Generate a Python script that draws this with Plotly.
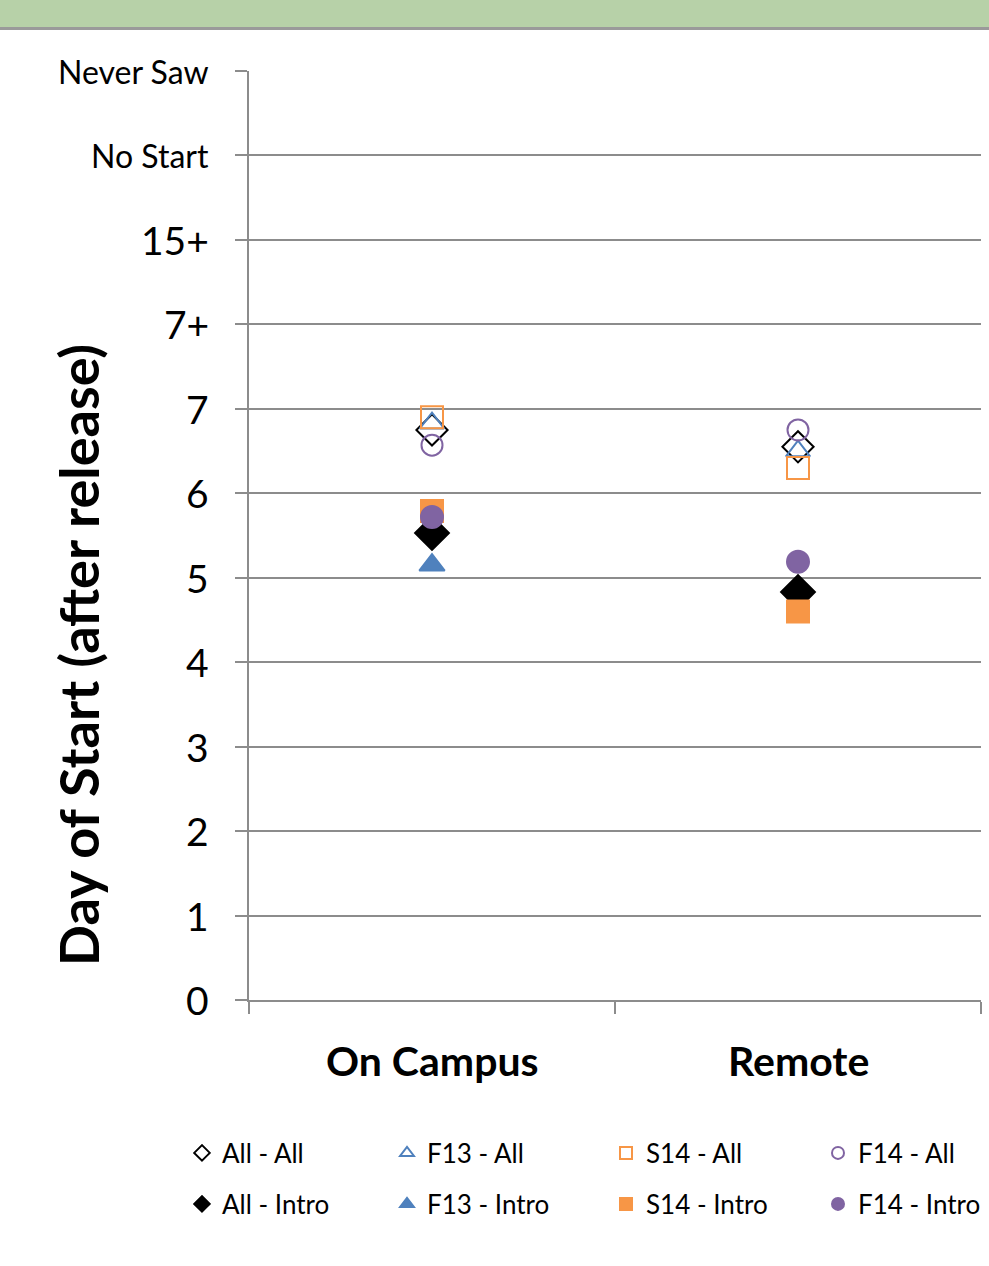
import plotly.graph_objects as go

categories = ["On Campus", "Remote"]
tick_vals = [0, 1, 2, 3, 4, 5, 6, 7, 8, 9, 10, 11]
tick_text = ["0", "1", "2", "3", "4", "5", "6", "7", "7+", "15+", "No Start", "Never Saw"]

all_all = [6.75, 6.55]
f13_all = [6.83, 6.50]
s14_all = [6.90, 6.30]
f14_all = [6.57, 6.75]
all_intro = [5.53, 4.83]
f13_intro = [5.15, None]
s14_intro = [5.79, 4.60]
f14_intro = [5.72, 5.19]

ORANGE = "#F79646"
BLUE = "#4F81BD"
PURPLE = "#8064A2"
BLACK = "#000000"
FONT = "Lato, Open Sans, sans-serif"

series = [
    ("All - All", all_all, "diamond-open", BLACK, 24),
    ("F13 - All", f13_all, "triangle-up-open", BLUE, 21),
    ("S14 - All", s14_all, "square-open", ORANGE, 22),
    ("F14 - All", f14_all, "circle-open", PURPLE, 21),
    ("All - Intro", all_intro, "diamond", BLACK, 26),
    ("F13 - Intro", f13_intro, "triangle-up", BLUE, 22),
    ("S14 - Intro", s14_intro, "square", ORANGE, 22),
    ("F14 - Intro", f14_intro, "circle", PURPLE, 22),
]

W, H = 989, 1266
L, R, T, B = 249, 8, 71, 266
PW, PH = W - L - R, H - T - B

# legend item placement (pixels): column left edges and row centres
col_px = [182, 387, 606, 818]
row_px = [1153, 1204]

fig = go.Figure()
legends = {}
for i, (name, vals, sym, col, size) in enumerate(series):
    lid = "legend" if i == 0 else "legend%d" % (i + 1)
    fig.add_trace(go.Scatter(
        x=categories, y=vals, mode="markers", name=name, legend=lid,
        marker=dict(symbol=sym, color=col, size=size,
                    line=dict(color=col, width=2)),
    ))
    r, c = divmod(i, 4)
    legends[lid] = dict(orientation="h", x=(col_px[c] - L) / PW, xanchor="left",
                        y=(1000 - row_px[r]) / PH, yanchor="middle",
                        font=dict(size=26, family=FONT, color="black"),
                        itemsizing="constant", bgcolor="rgba(0,0,0,0)")

fig.update_layout(
    width=W, height=H,
    margin=dict(l=L, r=R, t=T, b=B, autoexpand=False),
    paper_bgcolor="white", plot_bgcolor="white",
    font=dict(family=FONT, color="black"),
    showlegend=True,
    **legends,
)
fig.update_xaxes(
    type="category", range=[-0.5, 1.5],
    showgrid=False, showline=True, linecolor="#8c8c8c", linewidth=2,
    ticks="outside", ticklen=12, tickcolor="#8c8c8c", tickwidth=2,
    tickson="boundaries", showticklabels=False, zeroline=False,
)
fig.update_yaxes(
    range=[0, 11], tickvals=tick_vals, ticktext=[""] * len(tick_vals),
    showgrid=True, gridcolor="#8c8c8c", gridwidth=2,
    showline=True, linecolor="#8c8c8c", linewidth=2,
    ticks="outside", ticklen=12, tickcolor="#8c8c8c", tickwidth=2,
    zeroline=False,
)

# y tick labels with varying sizes
for v, t in zip(tick_vals, tick_text):
    size = 32 if v >= 10 else 39
    fig.add_annotation(x=0, xref="paper", y=v, yref="y", text=t, showarrow=False,
                       xanchor="right", yanchor="middle", xshift=-38,
                       font=dict(size=size, color="black", family=FONT))

# x category labels
for c in categories:
    fig.add_annotation(x=c, xref="x", y=0, yref="paper", text="<b>%s</b>" % c,
                       showarrow=False, yanchor="middle", yshift=-60,
                       font=dict(size=41, color="black", family=FONT))

# y-axis title
fig.add_annotation(x=0, xref="paper", y=(1000 - 655) / PH * 11, yref="y",
                   text="<b>Day of Start (after release)</b>", showarrow=False,
                   textangle=-90, xanchor="center", yanchor="middle", xshift=-171,
                   font=dict(size=54, color="black", family=FONT))

# top green band
fig.add_shape(type="rect", xref="paper", yref="paper",
              x0=-L / PW, x1=1 + R / PW,
              y0=1 + (T - 27) / PH, y1=1 + T / PH,
              fillcolor="#b7d1a8", line=dict(width=0), layer="above")
fig.add_shape(type="line", xref="paper", yref="paper",
              x0=-L / PW, x1=1 + R / PW,
              y0=1 + (T - 28.5) / PH, y1=1 + (T - 28.5) / PH,
              line=dict(color="#9a9a9a", width=3))

fig.write_html("out.html")
